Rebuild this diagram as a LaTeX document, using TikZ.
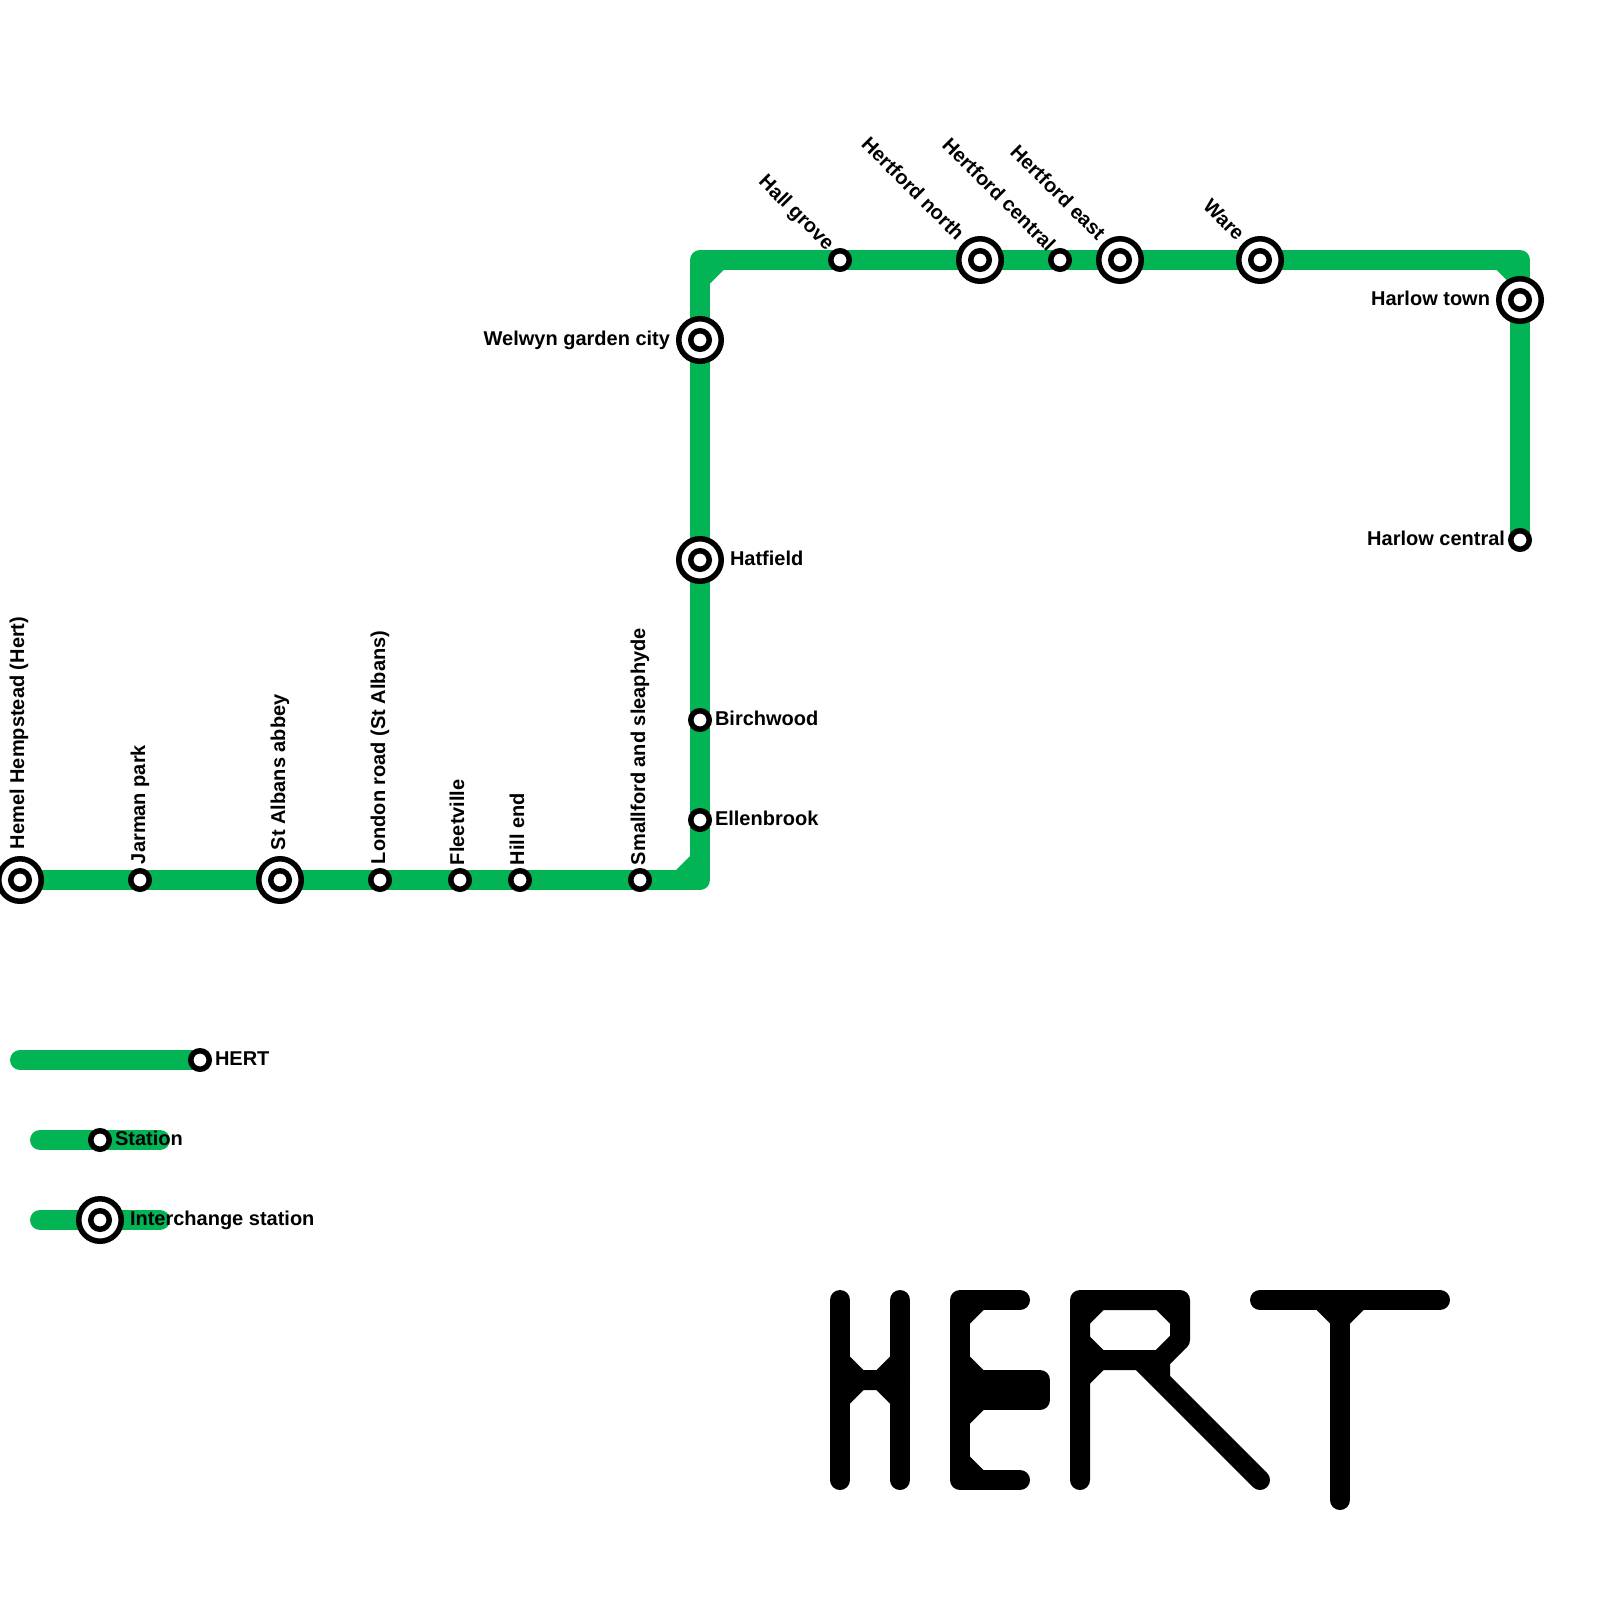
\documentclass[tikz,border=0pt]{standalone}
\usepackage{fontspec}
\setmainfont{Liberation Sans}
\definecolor{metro}{HTML}{03B454}
\pgfdeclarelayer{lines}
\pgfsetlayers{lines,main}
\tikzset{
  x=1pt,y=-1pt,
  metroline/.style={draw=metro,line width=20pt,line cap=round,line join=round},
  chamfer/.style={fill=metro,draw=none},
  logo/.style={draw=black,line width=20pt,line cap=round,line join=round},
  logofill/.style={fill=black,draw=none},
  st/.style={circle,draw=black,fill=white,line width=5.5pt,minimum size=18.5pt,inner sep=0pt,outer sep=0pt},
  ic/.style={circle,draw=black,fill=white,line width=5.5pt,minimum size=42.5pt,inner sep=0pt,outer sep=0pt},
  lab/.style={inner sep=0pt,outer sep=0pt,text=black,font=\fontsize{20}{22}\selectfont\bfseries},
  lw/.style={lab,anchor=mid west,yshift=-4.5pt},
  le/.style={lab,anchor=mid east,yshift=-4.5pt},
  up/.style={lab,anchor=mid west,xshift=2.5pt,rotate=90},
  dg/.style={lab,anchor=mid east,xshift=-4pt,yshift=-2.5pt,rotate=-45}
}
\begin{document}
\begin{tikzpicture}
\useasboundingbox (0,0) rectangle (1600,1600);
% stations
\node[ic] (hemel) at (20,880) {}; \node[st] (hemeli) at (20,880) {};
\node[st] (jarman) at (140,880) {};
\node[ic] (stalbans) at (280,880) {}; \node[st] (stalbansi) at (280,880) {};
\node[st] (london) at (380,880) {};
\node[st] (fleet) at (460,880) {};
\node[st] (hillend) at (520,880) {};
\node[st] (small) at (640,880) {};
\coordinate (sw) at (700,880);
\node[st] (ellen) at (700,820) {};
\node[st] (birch) at (700,720) {};
\node[ic] (hat) at (700,560) {}; \node[st] (hati) at (700,560) {};
\node[ic] (welwyn) at (700,340) {}; \node[st] (welwyni) at (700,340) {};
\coordinate (nw) at (700,260);
\node[st] (hall) at (840,260) {};
\node[ic] (hnorth) at (980,260) {}; \node[st] (hnorthi) at (980,260) {};
\node[st] (hcentral) at (1060,260) {};
\node[ic] (heast) at (1120,260) {}; \node[st] (heasti) at (1120,260) {};
\node[ic] (ware) at (1260,260) {}; \node[st] (warei) at (1260,260) {};
\coordinate (ne) at (1520,260);
\node[ic] (htown) at (1520,300) {}; \node[st] (htowni) at (1520,300) {};
\node[st] (hcentralb) at (1520,540) {};
% legend
\coordinate (kA) at (20,1060);
\node[st] (kB) at (200,1060) {};
\coordinate (kC) at (40,1140);
\coordinate (kD) at (160,1140);
\node[st] (kE) at (100,1140) {};
\coordinate (kF) at (40,1220);
\coordinate (kG) at (160,1220);
\node[ic] (kH) at (100,1220) {}; \node[st] (kHi) at (100,1220) {};
\begin{pgfonlayer}{lines}
\draw[metroline] (hemel.center) -- (sw) -- (hat.center) -- (nw) -- (ne) -- (hcentralb.center);
\fill[chamfer] (676,870) -- (690,856) -- (690,870) -- cycle;
\fill[chamfer] (710,283.5) -- (723.5,270) -- (710,270) -- cycle;
\fill[chamfer] (1496.5,270) -- (1510,283.5) -- (1510,270) -- cycle;
\draw[metroline] (kA) -- (kB.center);
\draw[metroline] (kC) -- (kD);
\draw[metroline] (kF) -- (kG);
\end{pgfonlayer}
% labels
\node[up] (lhemel) at (19,849) {Hemel Hempstead (Hert)};
\node[up] (ljarman) at (140,864) {Jarman park};
\node[up] (lstalbans) at (280,850) {St Albans abbey};
\node[up] (llondon) at (380,864) {London road (St Albans)};
\node[up] (lfleet) at (459,865) {Fleetville};
\node[up] (lhill) at (519,865) {Hill end};
\node[up] (lsmall) at (640,865) {Smallford and sleaphyde};
\node[lw] (lellen) at (715,818) {Ellenbrook};
\node[lw] (lbirch) at (715,718) {Birchwood};
\node[lw] (lhat) at (730,558) {Hatfield};
\node[le] (lwelwyn) at (670,338) {Welwyn garden city};
\node[dg] (lhall) at (832,247) {Hall grove};
\node[dg] (lhnorth) at (962,237) {Hertford north};
\node[dg] (lhcentral) at (1053,248) {Hertford central};
\node[dg] (lheast) at (1103,237) {Hertford east};
\node[dg] (lware) at (1242,237) {Ware};
\node[le] (lhtown) at (1490,298) {Harlow town};
\node[le] (lhcentralb) at (1505,538) {Harlow central};
\node[lw] (lkB) at (215,1058) {HERT};
\node[lw] (lkE) at (115,1138) {Station};
\node[lw] (lkH) at (130,1218) {Interchange station};
% HERT logo
\draw[logo] (840,1300) -- (840,1480);
\draw[logo] (900,1300) -- (900,1480);
\draw[logo] (840,1380) -- (900,1380);
\fill[logofill] (850,1356.5) -- (863.5,1370) -- (876.5,1370) -- (890,1356.5) -- (890,1403.5) -- (876.5,1390) -- (863.5,1390) -- (850,1403.5) -- cycle;
\draw[logo] (1020,1300) -- (960,1300) -- (960,1480) -- (1020,1480);
\draw[logo] (960,1380) -- (1040,1380) -- (1040,1400) -- (960,1400);
\fill[logofill] (970,1310) -- (983.5,1310) -- (970,1323.5) -- cycle;
\fill[logofill] (970,1356.5) -- (983.5,1370) -- (983.5,1410) -- (970,1423.5) -- cycle;
\fill[logofill] (970,1470) -- (983.5,1470) -- (970,1456.5) -- cycle;
\draw[logo] (1080,1480) -- (1080,1300) -- (1180,1300) -- (1180,1340) -- (1160,1360) -- (1080,1360);
\draw[logo] (1140,1360) -- (1260,1480);
\fill[logofill] (1090,1310) -- (1103.5,1310) -- (1090,1323.5) -- cycle;
\fill[logofill] (1170,1310) -- (1156.5,1310) -- (1170,1323.5) -- cycle;
\fill[logofill] (1090,1350) -- (1103.5,1350) -- (1090,1336.5) -- cycle;
\fill[logofill] (1170,1336.5) -- (1156.5,1350) -- (1170,1350) -- cycle;
\fill[logofill] (1090,1370) -- (1103.5,1370) -- (1090,1383.5) -- cycle;
\fill[logofill] (1170,1363) -- (1170,1377) -- (1150,1360) -- cycle;
\draw[logo] (1260,1300) -- (1440,1300);
\draw[logo] (1340,1300) -- (1340,1500);
\fill[logofill] (1316.5,1310) -- (1363.5,1310) -- (1350,1323.5) -- (1330,1323.5) -- cycle;
\end{tikzpicture}
\end{document}
